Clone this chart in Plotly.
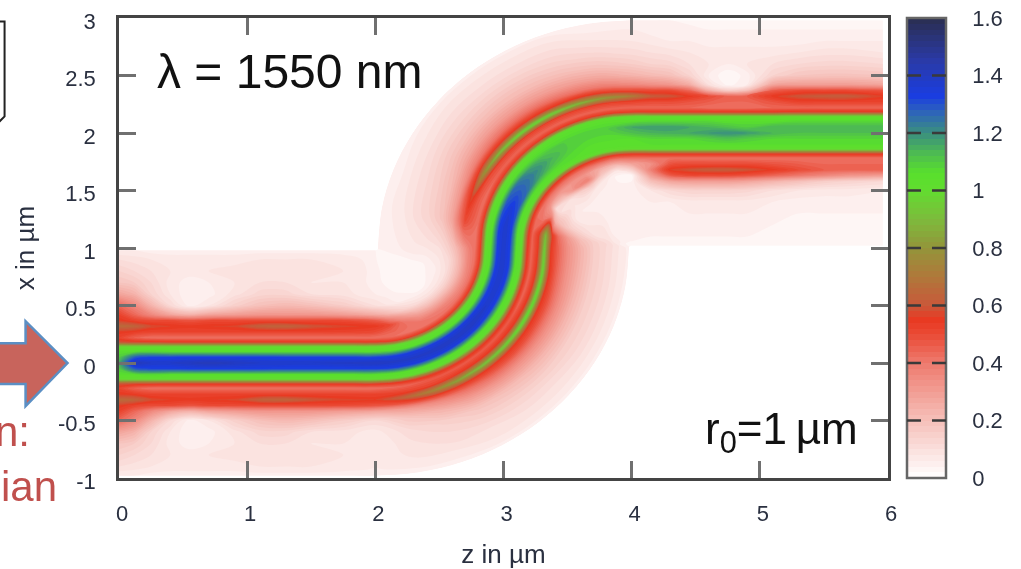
import math
import plotly.graph_objects as go

# Field intensity (x100) on a mesh that follows the S-bend.
# Columns: signed distance from the waveguide axis; rows: stations along the guide.
offsets = [-.98,-.9,-.8,-.7,-.6,-.5,-.42,-.37,-.32,-.27,-.22,-.18,-.14,-.1,-.05,0,
           .05,.1,.14,.18,.22,.27,.32,.37,.42,.5,.6,.7,.8,.9,.98]
straight_in_z = [0,.12,.25,.4,.55,.7,.9,1.1,1.3,1.5,1.75,2.0]
bend_in_deg = [10,20,30,40,50,60,70,80,90]
bend_out_deg = [10,20,30,40,50,60,70,80,90]
straight_out_z = [4.15,4.3,4.45,4.6,4.75,4.9,5.1,5.3,5.5,5.7,5.96]

intensity_straight_in = [
 [6,10,14,18,28,44,52,56,66,55,52,60,100,106,110,115,110,106,100,60,52,55,66,56,52,44,28,18,14,10,6],
 [6,9,12,16,24,36,44,52,64,54,45,58,100,106,128,142,128,106,100,58,45,54,64,52,44,36,24,16,12,9,6],
 [5,8,10,12,14,24,36,50,58,52,42,57,100,108,132,138,132,108,100,57,42,52,58,50,36,24,14,12,10,8,5],
 [5,7,8,7,8,12,28,50,56,52,42,56,100,106,132,138,132,106,100,56,42,52,56,50,28,12,8,7,8,7,5],
 [5,7,7,5,4,5,24,48,55,52,42,56,100,106,133,140,133,106,100,56,42,52,55,48,24,5,4,5,7,7,5],
 [5,7,8,6,5,8,28,50,56,52,42,56,100,106,133,142,133,106,100,56,42,52,56,50,28,8,5,6,8,7,5],
 [5,7,9,8,9,15,30,50,57,52,42,56,100,106,133,140,133,106,100,56,42,52,57,50,30,15,9,8,9,7,5],
 [5,8,10,10,13,20,32,50,63,52,42,56,100,106,133,138,133,106,100,56,42,52,63,50,32,20,13,10,10,8,5],
 [5,8,10,10,13,22,32,50,64,52,42,56,100,106,132,138,132,106,100,56,42,52,64,50,32,22,13,10,10,8,5],
 [5,8,9,8,10,20,32,50,60,52,42,56,100,106,132,138,132,106,100,56,42,52,60,50,32,20,10,8,9,8,5],
 [5,7,8,8,9,16,30,50,57,52,42,56,100,106,132,139,132,106,100,56,42,52,57,50,30,16,9,8,8,7,5],
 [5,6,6,6,7,12,28,48,56,52,42,56,100,106,132,140,132,106,100,56,42,50,55,46,26,10,6,5,5,5,5],
]
intensity_bend_in = [
 [5,7,9,10,12,18,30,48,64,52,44,56,100,106,133,139,133,106,100,54,42,45,50,38,22,8,5,4,4,3,3],
 [5,7,10,12,15,24,36,52,75,52,46,58,100,106,134,139,134,106,100,54,42,42,40,30,16,6,4,3,3,3,3],
 [5,8,10,14,19,30,42,54,85,55,46,58,100,106,134,140,134,106,100,54,42,40,32,22,12,5,3,3,3,3,3],
 [5,8,11,15,21,33,46,55,92,56,46,58,100,106,134,140,134,106,100,54,42,38,28,18,10,4,3,3,3,3,3],
 [5,8,11,16,23,34,48,56,96,56,46,58,100,106,134,140,134,106,100,54,42,36,26,16,9,4,3,3,3,3,3],
 [5,8,12,16,24,35,48,56,100,56,46,58,100,106,133,138,133,106,100,54,42,34,24,15,9,5,3,3,3,3,4],
 [5,8,12,16,24,35,48,56,100,56,44,58,100,106,133,138,133,106,100,54,42,34,24,16,10,6,4,4,4,4,4],
 [5,8,12,16,24,34,46,56,98,56,44,58,100,106,133,138,133,106,100,54,42,36,26,18,12,8,6,6,6,5,5],
 [5,8,12,16,24,34,46,55,95,55,44,58,100,106,132,138,132,106,100,54,42,38,30,22,16,10,8,7,6,5,5],
]
intensity_bend_out = [
 [4,8,12,15,20,30,42,55,90,55,44,58,100,106,132,138,132,106,100,54,42,46,50,40,28,19,14,11,8,6,4],
 [4,6,10,10,12,15,20,25,50,40,42,56,100,106,130,135,130,106,100,54,42,48,58,46,32,22,16,12,9,6,5],
 [4,6,8,10,8,8,12,10,12,32,42,56,100,106,126,128,126,106,100,54,44,50,80,52,38,27,19,14,10,7,5],
 [3,5,6,8,8,6,8,8,20,30,42,56,100,106,118,122,118,106,100,54,44,52,92,55,42,30,21,15,11,8,5],
 [3,5,6,6,6,6,10,15,35,32,42,56,100,106,112,115,112,106,100,54,44,52,98,56,44,31,22,16,11,8,5],
 [3,5,5,5,5,5,8,18,38,32,42,56,100,106,108,110,110,106,102,55,44,52,97,56,44,31,22,16,11,8,5],
 [3,5,5,5,5,4,6,8,18,26,42,56,100,106,106,108,110,106,102,55,44,52,90,56,42,30,21,15,11,8,5],
 [3,5,6,6,5,5,4,3,8,22,40,56,100,106,106,108,110,106,102,55,44,52,82,54,40,28,19,13,9,6,5],
 [3,5,6,6,6,5,4,3,15,28,42,56,100,106,106,112,116,106,102,55,44,52,72,50,36,24,16,11,8,6,4],
]
intensity_straight_out = [
 [3,4,5,6,6,8,20,30,38,34,42,56,100,106,108,114,118,108,102,56,44,50,62,50,34,22,14,10,7,5,4],
 [3,4,5,6,6,12,28,46,56,48,42,56,100,106,108,115,118,108,102,56,44,50,60,50,32,20,13,9,6,5,4],
 [3,4,5,6,7,14,30,50,60,50,42,56,100,106,108,116,116,108,102,56,44,48,55,44,26,14,10,8,6,5,3],
 [3,4,5,6,7,14,30,50,62,50,42,56,100,106,110,118,114,108,102,56,42,46,50,25,10,6,8,7,5,4,3],
 [3,4,5,6,7,14,30,50,62,50,42,56,100,106,112,120,112,106,102,56,42,44,45,15,3,2,6,7,5,4,3],
 [3,4,5,6,7,13,28,48,60,50,42,56,100,106,110,118,110,106,102,56,42,44,46,20,6,5,8,7,5,4,3],
 [3,4,4,5,6,10,24,44,55,48,42,56,100,106,108,114,114,106,102,56,44,48,55,46,28,14,10,7,5,4,3],
 [3,3,4,4,5,8,20,40,50,46,42,56,100,106,108,112,114,108,102,58,44,52,60,50,30,18,12,8,5,4,3],
 [3,3,4,4,5,7,16,36,46,44,42,56,100,106,108,112,114,108,102,58,44,52,62,50,30,19,13,9,6,4,3],
 [3,3,3,4,5,7,14,32,45,44,42,56,100,106,108,112,114,108,102,58,44,52,62,50,30,19,13,9,6,4,3],
 [3,3,3,4,5,6,12,30,46,44,42,56,100,106,108,112,114,108,102,58,44,52,56,48,28,18,12,8,6,4,3],
]

z_ticks = [0,1,2,3,4,5,6]
x_ticks = [-1,-.5,0,.5,1,1.5,2,2.5,3]
x_tick_labels = ["-1","-0.5","0","0.5","1","1.5","2","2.5","3"]
cbar_ticks = [0,.2,.4,.6,.8,1,1.2,1.4,1.6]
cbar_labels = ["0","0.2","0.4","0.6","0.8","1","1.2","1.4","1.6"]

rows = intensity_straight_in + intensity_bend_in + intensity_bend_out + intensity_straight_out

# Axis geometry of the S-bend (two quarter circles of radius r0 = 1 um).
mesh_z, mesh_x = [], []
for z0 in straight_in_z:
    mesh_z.append([z0 for _ in offsets]); mesh_x.append([d for d in offsets])
for a in bend_in_deg:
    t = math.radians(a)
    mesh_z.append([2 + (1-d)*math.sin(t) for d in offsets])
    mesh_x.append([1 - (1-d)*math.cos(t) for d in offsets])
for a in bend_out_deg:
    t = math.radians(a)
    mesh_z.append([4 - (1+d)*math.cos(t) for d in offsets])
    mesh_x.append([1 + (1+d)*math.sin(t) for d in offsets])
for z0 in straight_out_z:
    mesh_z.append([z0 for _ in offsets]); mesh_x.append([2+d for d in offsets])

stations = list(range(len(rows)))
tr = lambda m: [list(c) for c in zip(*m)]

L, R, T, B = 118.5, 888.0, 17.5, 478.0
W, H = 1021, 569
px = lambda v: (v-L)/(R-L)
py = lambda v: (B-v)/(B-T)

palette = [(0,"#ffffff"),(.2,"#f6c0ba"),(.4,"#ee7a6e"),(.5,"#ea4a35"),(.55,"#e83a22"),(.6,"#c9583a"),
           (.7,"#b0783a"),(.8,"#93953a"),(.9,"#7dbb3c"),(1.0,"#62dc30"),(1.06,"#58e02c"),(1.12,"#50c04c"),
           (1.2,"#3a8f80"),(1.28,"#2c5fc0"),(1.33,"#1a3de0"),(1.45,"#2a3aa8"),(1.6,"#2a2e50")]
colorscale = [[v/1.6, c] for v, c in palette]

fig = go.Figure()
fig.add_trace(go.Carpet(
    a=stations, b=offsets, x=tr(mesh_z), y=tr(mesh_x), carpet="guide",
    aaxis=dict(showgrid=False, showline=False, showticklabels="none", startline=False, endline=False, minorgridcount=0),
    baxis=dict(showgrid=False, showline=False, showticklabels="none", startline=False, endline=False, minorgridcount=0),
))
fig.add_trace(go.Contourcarpet(
    a=stations, b=offsets, z=tr([[v/100 for v in r] for r in rows]), carpet="guide",
    zmin=0, zmax=1.6, colorscale=colorscale, autocontour=False,
    contours=dict(start=0, end=1.6, size=.02, coloring="fill", showlines=False),
    line=dict(width=0),
    colorbar=dict(x=px(907), xanchor="left", xpad=0, ypad=0, y=.5, yanchor="middle", len=1, thickness=39,
                  tickvals=cbar_ticks, ticktext=cbar_labels, ticks="outside", ticklen=21,
                  tickcolor="rgba(0,0,0,0)", outlinecolor="#666", outlinewidth=2.5,
                  tickfont=dict(family="Liberation Sans", size=22, color="#2a3040")),
))

axis_font = dict(family="Liberation Sans", size=22, color="#2a3040")
title_font = dict(family="Liberation Sans", size=26, color="#2a3040")
frame = dict(showline=True, linecolor="#444", linewidth=2.5, mirror="ticks", ticks="inside", ticklen=17,
             tickwidth=2.5, tickcolor="#707070", showgrid=False, zeroline=False, tickfont=axis_font,
             layer="above traces", automargin=False)
fig.update_layout(
    width=W, height=H, paper_bgcolor="white", plot_bgcolor="white", showlegend=False,
    margin=dict(l=L, r=W-R, t=T, b=H-B, pad=0, autoexpand=False),
    xaxis=dict(range=[0,6], tickvals=z_ticks, ticklabelstandoff=14, **frame,
               title=dict(text="z in µm", font=title_font, standoff=22)),
    yaxis=dict(range=[-1,3], tickvals=x_ticks, ticktext=x_tick_labels, ticklabelstandoff=16, **frame,
               title=dict(text="x in µm", font=title_font, standoff=16)),
)

note = dict(xref="paper", yref="paper", showarrow=False)
fig.add_annotation(x=px(155), y=py(71), xanchor="left", yanchor="middle", text="λ = 1550 nm",
                   font=dict(family="Liberation Sans", size=48, color="#111"), **note)
fig.add_annotation(x=px(860), y=py(432), xanchor="right", yanchor="middle", text="r<sub>0</sub>=1\u2009µm",
                   font=dict(family="Liberation Sans", size=44, color="#111"), **note)
fig.add_annotation(x=px(31), y=py(431), xanchor="right", yanchor="middle", text="n:",
                   font=dict(family="Liberation Sans", size=42, color="#c0504d"), **note)
fig.add_annotation(x=px(58), y=py(487), xanchor="right", yanchor="middle", text="ian",
                   font=dict(family="Liberation Sans", size=42, color="#c0504d"), **note)

def poly(points):
    return "M " + " L ".join(f"{px(a):.5f} {py(b):.5f}" for a, b in points)

# Block arrow and the clipped box at the left edge of the slide.
fig.add_shape(type="path", xref="paper", yref="paper", layer="above",
              path=poly([(-2,343),(25,343),(25,321),(67,363),(25,406),(25,384),(-2,384)]) + " Z",
              fillcolor="#c8645c", line=dict(color="#5b8fc4", width=2.5))
fig.add_shape(type="path", xref="paper", yref="paper", layer="above",
              path=poly([(-2,21),(4,21),(4,116),(-2,122)]),
              line=dict(color="#222", width=2))

# Dashed tick marks across the colour bar.
for v in cbar_ticks[1:-1]:
    y = B - v/1.6*(B-T)
    fig.add_shape(type="line", xref="paper", yref="paper", layer="above", x0=px(907), x1=px(946), y0=py(y), y1=py(y),
                  line=dict(color="#3a3a3a", width=2.5, dash="14px,11px,14px"))

page_setup = """
document.body.style.margin = '0';
var css = document.createElement('style');
css.textContent = 'g.ytick,g.ycbtick{transform:translateY(3px)} g.xtick{transform:translateX(3px)}'
  + ' .cartesianlayer,.colorbar{filter:blur(0.7px)}';
document.head.appendChild(css);
var bar = document.querySelector('.colorbar');
var above = document.querySelector('.layer-above');
if (bar && above) { above.parentNode.insertBefore(bar, above); }
"""
fig.write_html("out.html", config={"displayModeBar": False}, post_script=page_setup)
